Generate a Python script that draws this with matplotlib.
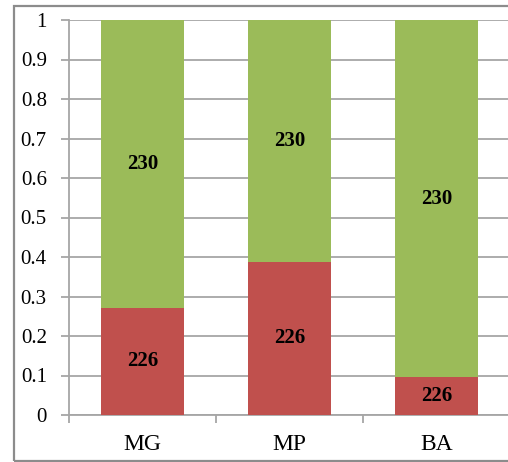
import matplotlib
matplotlib.use("Agg")
import matplotlib.pyplot as plt
from matplotlib.patches import Rectangle

categories = ["MG", "MP", "BA"]
share_226 = [0.272, 0.388, 0.095]
share_230 = [1 - v for v in share_226]
label_226 = ["226", "226", "226"]
label_230 = ["230", "230", "230"]
y_ticks = [0, 0.1, 0.2, 0.3, 0.4, 0.5, 0.6, 0.7, 0.8, 0.9, 1]
y_tick_labels = ["0", "0.1", "0.2", "0.3", "0.4", "0.5", "0.6", "0.7", "0.8", "0.9", "1"]

RED = "#C0504D"
GREEN = "#9BBB59"
GRID = "#A6A6A6"
SERIF = ["Liberation Serif", "DejaVu Serif"]

W, H = 508, 462
fig = plt.figure(figsize=(W / 100, H / 100), dpi=100)

# outer chart frame
fig.patches.append(Rectangle((14 / W, 1 - 461 / H), 1.2, (461 - 6) / H,
                             transform=fig.transFigure, fill=False,
                             edgecolor="#8C8C8C", linewidth=1.6, clip_on=False))

ax = fig.add_axes([69 / W, 1 - 415 / H, (510 - 69) / W, (415 - 20) / H])
x = range(len(categories))
bw = 0.57
ax.bar(x, share_226, width=bw, color=RED, zorder=3)
ax.bar(x, share_230, width=bw, bottom=share_226, color=GREEN, zorder=3)

for i in x:
    ax.text(i, share_226[i] / 2, label_226[i], ha="center", va="center",
            fontsize=15, fontweight="bold", family=SERIF, zorder=4)
    ax.text(i, share_226[i] + share_230[i] / 2, label_230[i], ha="center", va="center",
            fontsize=15, fontweight="bold", family=SERIF, zorder=4)

ax.set_xlim(-0.5, 2.5)
ax.set_ylim(0, 1)
ax.set_yticks(y_ticks)
ax.set_yticklabels(y_tick_labels, family=SERIF, fontsize=15)
ax.yaxis.grid(True, color=GRID, linewidth=1.3, zorder=0)
ax.set_axisbelow(True)

ax.set_xticks([-0.5, 0.5, 1.5, 2.5])
ax.set_xticklabels([])
ax.set_xticks(list(x), minor=True)
ax.set_xticklabels(categories, minor=True, family=SERIF, fontsize=17)
ax.tick_params(axis="x", which="minor", length=0, pad=14)
ax.tick_params(axis="x", which="major", length=6, color=GRID, width=1.3)
ax.tick_params(axis="y", length=6, color=GRID, width=1.3, pad=10)

for s in ["top", "right"]:
    ax.spines[s].set_visible(False)
for s in ["left", "bottom"]:
    ax.spines[s].set_color(GRID)
    ax.spines[s].set_linewidth(1.3)

fig.savefig("out.png", dpi=100)
